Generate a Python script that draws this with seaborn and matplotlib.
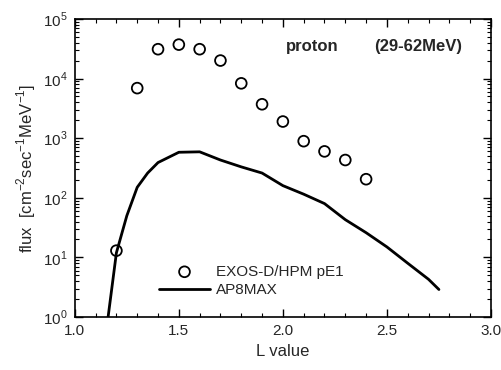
import matplotlib
matplotlib.use("Agg")
import matplotlib.pyplot as plt
import matplotlib.ticker as mticker
import seaborn as sns
import pandas as pd

# Data
exos_L = [1.2, 1.3, 1.4, 1.5, 1.6, 1.7, 1.8, 1.9, 2.0, 2.1, 2.2, 2.3, 2.4]
exos_flux = [13, 6900, 31000, 37000, 31000, 20000, 8300, 3700, 1900, 890, 600, 430, 205]

ap8_L = [1.16, 1.2, 1.25, 1.3, 1.35, 1.4, 1.5, 1.6, 1.7, 1.8, 1.9, 2.0, 2.1, 2.2, 2.3, 2.4, 2.5, 2.6, 2.7, 2.75]
ap8_flux = [1.0, 12, 50, 150, 260, 390, 580, 590, 430, 330, 260, 160, 115, 80, 43, 26, 15, 8, 4.3, 2.9]

sns.set_theme(style="ticks")
plt.rcParams['font.family'] = ['Liberation Sans', 'DejaVu Sans']
plt.rcParams['mathtext.fontset'] = 'custom'
plt.rcParams['mathtext.rm'] = 'Liberation Sans'

fig = plt.figure(figsize=(5.02, 3.70), dpi=100)
ax = fig.add_axes([0.149, 0.143, 0.829, 0.806])

df_e = pd.DataFrame({"L": exos_L, "flux": exos_flux})
df_a = pd.DataFrame({"L": ap8_L, "flux": ap8_flux})

sns.lineplot(data=df_a, x="L", y="flux", ax=ax, color="black", linewidth=2.0,
             label="AP8MAX", sort=False)
sns.scatterplot(data=df_e, x="L", y="flux", ax=ax, marker="o", s=60,
                facecolor="none", edgecolor="black", linewidth=1.3,
                label="EXOS-D/HPM pE1")

ax.set_yscale("log")
ax.set_xlim(1.0, 3.0)
ax.set_ylim(1, 1e5)
ax.set_xticks([1.0, 1.5, 2.0, 2.5, 3.0])
ax.xaxis.set_minor_locator(mticker.MultipleLocator(0.1))
ax.yaxis.set_major_locator(mticker.LogLocator(base=10, numticks=10))
ax.yaxis.set_minor_locator(mticker.LogLocator(base=10, subs=range(2, 10), numticks=10))
ax.yaxis.set_minor_formatter(mticker.NullFormatter())
ax.set_yticklabels([])
ax.set_yticks([1, 10, 100, 1e3, 1e4, 1e5])
ax.set_yticklabels([r"$10^{%d}$" % i for i in range(6)])
ax.set_xticklabels(["1.0", "1.5", "2.0", "2.5", "3.0"])

ax.tick_params(which="both", direction="in", top=True, right=True, color="black")
ax.tick_params(which="major", length=6, width=1.0, labelsize=11, pad=5)
ax.tick_params(which="minor", length=3, width=0.8)
for sp in ax.spines.values():
    sp.set_linewidth(1.2)
    sp.set_color("black")

ax.set_xlabel("L value", fontsize=12, labelpad=4)
ax.set_ylabel(r"flux  [cm$^{-2}$sec$^{-1}$MeV$^{-1}$]", fontsize=12, labelpad=4)

ax.text(0.508, 0.893, "proton", transform=ax.transAxes, fontsize=12, fontweight="bold")
ax.text(0.72, 0.893, "(29-62MeV)", transform=ax.transAxes, fontsize=12, fontweight="bold")

handles, labels = ax.get_legend_handles_labels()
order = [labels.index("EXOS-D/HPM pE1"), labels.index("AP8MAX")]
leg = ax.legend([handles[i] for i in order], [labels[i] for i in order],
                loc="lower left", bbox_to_anchor=(0.17, 0.02), frameon=False,
                fontsize=11, handlelength=3.3, handletextpad=0.4, labelspacing=0.3)

fig.savefig("out.png", dpi=100)
